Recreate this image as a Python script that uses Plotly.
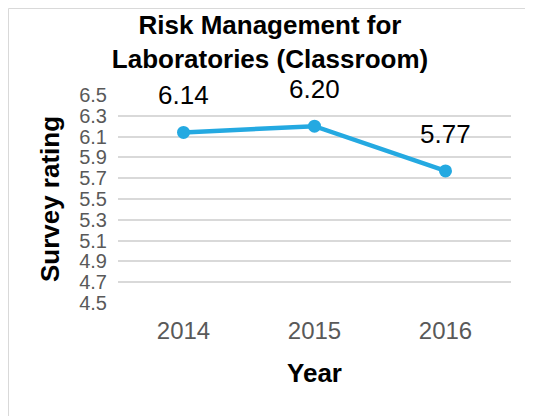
import plotly.graph_objects as go

years = ["2014", "2015", "2016"]
ratings = [6.14, 6.20, 5.77]
labels = ["6.14", "6.20", "5.77"]
y_ticks = [4.5, 4.7, 4.9, 5.1, 5.3, 5.5, 5.7, 5.9, 6.1, 6.3, 6.5]

FONT = "Liberation Sans, Arial, sans-serif"
# page body adds an 8px offset; the figure is sized to fit the window
W, H = 525, 408
ml, mr, mt, mb = 110, 22, 87, 113
pw = W - ml - mr
ph = H - mt - mb

fig = go.Figure()
fig.add_trace(go.Scatter(
    x=years, y=ratings, mode="lines+markers",
    line=dict(color="#24A9E1", width=4.5),
    marker=dict(color="#24A9E1", size=13),
    hoverinfo="skip", showlegend=False,
))
for i, (y, t) in enumerate(zip(ratings, labels)):
    fig.add_annotation(x=i, y=y, xref="x", yref="y", text=t, showarrow=False,
                       yshift=37, yanchor="middle",
                       font=dict(family=FONT, size=26, color="#000000"))

# frame (top and left edges, as in the reference crop)
fig.add_shape(type="line", xref="paper", yref="paper",
              x0=(0.5 - ml) / pw, x1=(W - ml) / pw,
              y0=1 + (mt - 0.5) / ph, y1=1 + (mt - 0.5) / ph,
              line=dict(color="#D9D9D9", width=1))
fig.add_shape(type="line", xref="paper", yref="paper",
              x0=(0.5 - ml) / pw, x1=(0.5 - ml) / pw,
              y0=-(mb) / ph, y1=1 + (mt - 0.5) / ph,
              line=dict(color="#D9D9D9", width=1))

fig.update_layout(
    width=W, height=H,
    margin=dict(l=ml, r=mr, t=mt, b=mb),
    paper_bgcolor="white", plot_bgcolor="white",
    title=dict(text="<b>Risk Management for<br>Laboratories (Classroom)</b>",
               xref="container", x=262 / W, xanchor="center",
               yref="container", y=1 - 26 / H, yanchor="middle",
               font=dict(family=FONT, size=26, color="#000000")),
    xaxis=dict(type="category", range=[-0.5, 2.5], showgrid=False, showline=False,
               ticks="", ticklabelstandoff=11,
               tickfont=dict(family=FONT, size=24, color="#595959"),
               title=dict(text="<b>Year</b>", standoff=20,
                          font=dict(family=FONT, size=26, color="#000000"))),
    yaxis=dict(range=[4.5, 6.5], tickvals=y_ticks, ticktext=[f"{v:.1f}" for v in y_ticks],
               showgrid=True, gridcolor="#D9D9D9", gridwidth=1.5, zeroline=False, showline=False,
               ticks="", ticklabelstandoff=10,
               tickfont=dict(family=FONT, size=20, color="#595959"),
               title=dict(text="<b>Survey rating</b>", standoff=12,
                          font=dict(family=FONT, size=26, color="#000000"))),
)

fig.write_html("out.html")
